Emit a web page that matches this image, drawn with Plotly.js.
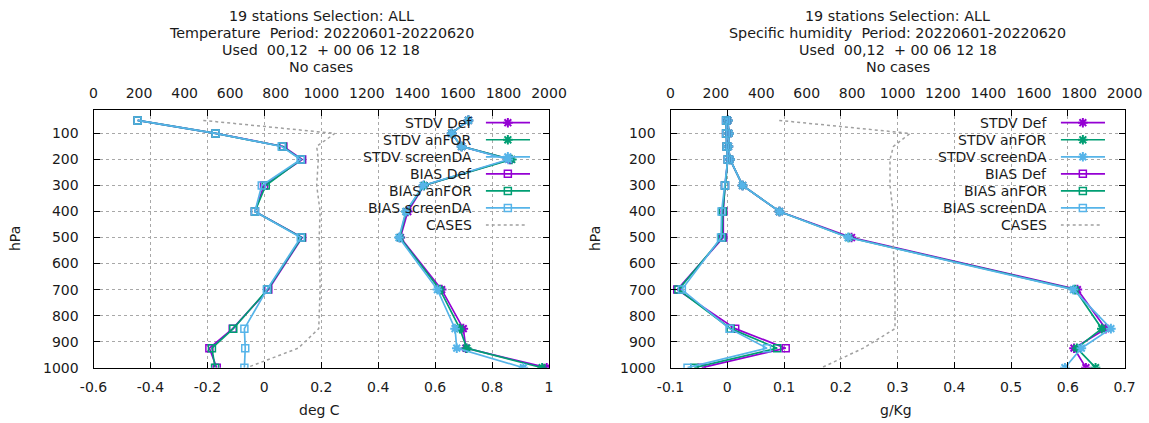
<!DOCTYPE html>
<html>
<head>
<meta charset="utf-8">
<script src="https://cdn.plot.ly/plotly-3.0.1.min.js"></script>
<style>html,body{margin:0;padding:0;background:#fff;}#chart{width:1149px;height:423px;}</style>
</head>
<body>
<div id="chart"></div>
<script>
// ---------- data ----------
const levels = [50, 100, 150, 200, 300, 400, 500, 700, 850, 925, 1000];
const pressureTicks = [100, 200, 300, 400, 500, 600, 700, 800, 900, 1000];
const tempTicks = [-0.6, -0.4, -0.2, 0, 0.2, 0.4, 0.6, 0.8, 1];
const humTicks = [-0.1, 0, 0.1, 0.2, 0.3, 0.4, 0.5, 0.6, 0.7];
const casesTicks = [0, 200, 400, 600, 800, 1000, 1200, 1400, 1600, 1800, 2000];

const seriesNames = ["STDV Def", "STDV anFOR", "STDV screenDA", "BIAS Def", "BIAS anFOR", "BIAS screenDA", "CASES"];

const tStdvDef      = [0.717, 0.658, 0.693, 0.863, 0.561, 0.504, 0.478, 0.623, 0.699, 0.708, 0.992];
const tStdvAnFOR    = [0.717, 0.658, 0.693, 0.869, 0.561, 0.498, 0.476, 0.617, 0.687, 0.711, 0.976];
const tStdvScreenDA = [0.717, 0.658, 0.693, 0.857, 0.558, 0.497, 0.473, 0.608, 0.670, 0.676, 0.910];
const tBiasDef      = [-0.445, -0.171, 0.067, 0.133, -0.001, -0.033, 0.133, 0.014, -0.111, -0.193, -0.167];
const tBiasAnFOR    = [-0.445, -0.171, 0.064, 0.129, 0.005, -0.033, 0.131, 0.011, -0.109, -0.184, -0.173];
const tBiasScreenDA = [-0.445, -0.171, 0.061, 0.128, -0.009, -0.033, 0.128, 0.009, -0.070, -0.067, -0.070];
const tCases        = [482, 1060, 980, 987, 980, 995, 991, 995, 989, 899, 673];

const qStdvDef      = [0.001, 0.003, 0.002, 0.005, 0.027, 0.092, 0.219, 0.617, 0.667, 0.611, 0.632];
const qStdvAnFOR    = [0.001, 0.003, 0.002, 0.005, 0.027, 0.092, 0.214, 0.613, 0.660, 0.616, 0.649];
const qStdvScreenDA = [0.001, 0.003, 0.002, 0.005, 0.027, 0.092, 0.213, 0.610, 0.676, 0.624, 0.595];
const qBiasDef      = [-0.002, -0.002, -0.001, 0.001, -0.004, -0.007, -0.007, -0.088, 0.014, 0.103, -0.045];
const qBiasAnFOR    = [-0.002, -0.002, -0.001, 0.001, -0.004, -0.008, -0.009, -0.086, 0.006, 0.088, -0.058];
const qBiasScreenDA = [-0.002, -0.002, -0.001, 0.001, -0.004, -0.010, -0.011, -0.080, 0.004, 0.070, -0.070];
const qCases        = [479, 1055, 982, 967, 967, 980, 980, 989, 989, 849, 666];

const leftTitle  = ["19 stations Selection: ALL", "Temperature\u00a0\u00a0Period: 20220601-20220620", "Used\u00a0\u00a000,12\u00a0\u00a0+ 00 06 12 18", "No cases"];
const rightTitle = ["19 stations Selection: ALL", "Specific humidity\u00a0\u00a0Period: 20220601-20220620", "Used\u00a0\u00a000,12\u00a0\u00a0+ 00 06 12 18", "No cases"];

// ---------- styling ----------
const W = 1149, H = 423;
const px = v => v / W, py = v => 1 - v / H;
const FONT = "DejaVu Sans, sans-serif";
const TXT = "#1a1a1a";
const colors = ["#9400d3", "#009e73", "#56b4e9", "#9400d3", "#009e73", "#56b4e9", "#a0a0a0"];
const symbols = ["asterisk-open", "asterisk-open", "asterisk-open", "square-open", "square-open", "square-open", null];
const LW = 1.7;
const casesDash = "3px,3px";

const yDom = [py(367.7), py(110)];

function profile(vals, i, xa, ya) {
  if (i === 6) {
    return {x: vals, y: levels, xaxis: xa, yaxis: ya, type: "scatter", mode: "lines",
      line: {color: colors[i], width: 1.5, dash: casesDash}, showlegend: false, hoverinfo: "skip"};
  }
  return {x: vals, y: levels, xaxis: xa, yaxis: ya, type: "scatter", mode: "lines+markers",
    line: {color: colors[i], width: LW},
    marker: {symbol: symbols[i], size: i < 3 ? 8 : 7, color: colors[i], line: {color: colors[i], width: i < 3 ? 2 : 1.5}},
    showlegend: false, hoverinfo: "skip"};
}

const traces = [];
[tStdvDef, tStdvAnFOR, tStdvScreenDA, tBiasDef, tBiasAnFOR, tBiasScreenDA].forEach((s, i) => traces.push(profile(s, i, "x", "y")));
traces.push(profile(tCases, 6, "x3", "y"));
[qStdvDef, qStdvAnFOR, qStdvScreenDA, qBiasDef, qBiasAnFOR, qBiasScreenDA].forEach((s, i) => traces.push(profile(s, i, "x2", "y2")));
traces.push(profile(qCases, 6, "x4", "y2"));

// key samples (legend drawn gnuplot-style: text then sample)
function keyTraces(xa, ya) {
  seriesNames.forEach((n, i) => {
    if (i === 6) {
      traces.push({x: [0, 0.9], y: [i, i], xaxis: xa, yaxis: ya, type: "scatter", mode: "lines",
        line: {color: colors[i], width: 1.5, dash: casesDash}, showlegend: false, hoverinfo: "skip"});
    } else {
      traces.push({x: [0, 0.5, 1], y: [i, i, i], xaxis: xa, yaxis: ya, type: "scatter", mode: "lines+markers",
        line: {color: colors[i], width: LW},
        marker: {symbol: symbols[i], size: i < 3 ? 8 : 7, color: colors[i], opacity: [0, 1, 0], line: {color: colors[i], width: i < 3 ? 2 : 1.5}},
        showlegend: false, hoverinfo: "skip"});
    }
  });
}
keyTraces("x7", "y7");
keyTraces("x8", "y8");

const gridStyle = {showgrid: true, gridcolor: "#a8a8a8", griddash: "dot", gridwidth: 1};
const tickfont = {family: FONT, size: 14, color: TXT};

function valueAxis(dom, rng, ticks, anchor) {
  return Object.assign({domain: dom, range: rng, anchor: anchor, tickmode: "array", tickvals: ticks,
    ticktext: ticks.map(t => String(t)), ticks: "inside", ticklen: 6, tickcolor: "#000",
    showline: true, linecolor: "#000", linewidth: 1, mirror: "ticks", zeroline: false,
    tickfont: tickfont, ticklabelstandoff: 6, fixedrange: true}, gridStyle);
}
function pressAxis(anchor) {
  return Object.assign({domain: yDom, range: [1000, 10], anchor: anchor, tickmode: "array", tickvals: pressureTicks,
    ticks: "inside", ticklen: 6, tickcolor: "#000", showline: true, linecolor: "#000", linewidth: 1,
    mirror: "ticks", zeroline: false, tickfont: tickfont, ticklabelstandoff: 11, fixedrange: true}, gridStyle);
}
function hiddenAxis(dom, rng, anchor) {
  return {domain: dom, range: rng, anchor: anchor, visible: false, showgrid: false, zeroline: false, fixedrange: true};
}
function casesAxis(base, anchor) {
  return {overlaying: base, anchor: anchor, side: "top", range: [0, 2000], tickmode: "array", tickvals: casesTicks,
    ticks: "", showline: false, showgrid: false, zeroline: false, tickfont: tickfont, ticklabelstandoff: 8, fixedrange: true};
}

const keyYDom = [py(233.55), py(114.2)];

const annotations = [];
function titleLines(lines, cx) {
  const ys = [16, 33, 50, 67];
  lines.forEach((t, i) => annotations.push({text: t, xref: "paper", yref: "paper", x: px(cx), y: py(ys[i]),
    xanchor: "center", yanchor: "middle", showarrow: false, font: {family: FONT, size: 14.3, color: TXT}}));
}
titleLines(leftTitle, 321);
titleLines(rightTitle, 897.5);
function axisLabel(t, x, y, rot) {
  annotations.push({text: t, xref: "paper", yref: "paper", x: px(x), y: py(y), xanchor: "center", yanchor: "middle",
    showarrow: false, textangle: rot, font: {family: FONT, size: 14, color: TXT}});
}
axisLabel("deg C", 319, 410, 0);
axisLabel("g/Kg", 896, 410, 0);
axisLabel("hPa", 15, 239, -90);
axisLabel("hPa", 595, 239, -90);
function keyLabels(xa, ya) {
  seriesNames.forEach((n, i) => annotations.push({text: n, xref: xa, yref: ya, x: 0, y: i, xanchor: "right",
    yanchor: "middle", xshift: -12, showarrow: false, font: {family: FONT, size: 14, color: TXT}}));
}
keyLabels("x7", "y7");
keyLabels("x8", "y8");

const layout = {
  width: W, height: H,
  margin: {l: 0, r: 0, t: 0, b: 0},
  paper_bgcolor: "#fff", plot_bgcolor: "rgba(0,0,0,0)",
  showlegend: false,
  font: {family: FONT, size: 14, color: TXT},
  xaxis: valueAxis([px(93.5), px(549)], [-0.6, 1], tempTicks, "y"),
  yaxis: pressAxis("x"),
  xaxis2: valueAxis([px(670.5), px(1124.5)], [-0.1, 0.7], humTicks, "y2"),
  yaxis2: pressAxis("x2"),
  xaxis3: casesAxis("x", "y"),
  xaxis4: casesAxis("x2", "y2"),
  xaxis7: hiddenAxis([px(485.7), px(530)], [0, 1], "y7"),
  yaxis7: hiddenAxis(keyYDom, [6.5, -0.5], "x7"),
  xaxis8: hiddenAxis([px(1060.7), px(1105)], [0, 1], "y8"),
  yaxis8: hiddenAxis(keyYDom, [6.5, -0.5], "x8"),
  annotations: annotations
};

Plotly.newPlot("chart", traces, layout, {staticPlot: true, displayModeBar: false});
</script>
</body>
</html>
